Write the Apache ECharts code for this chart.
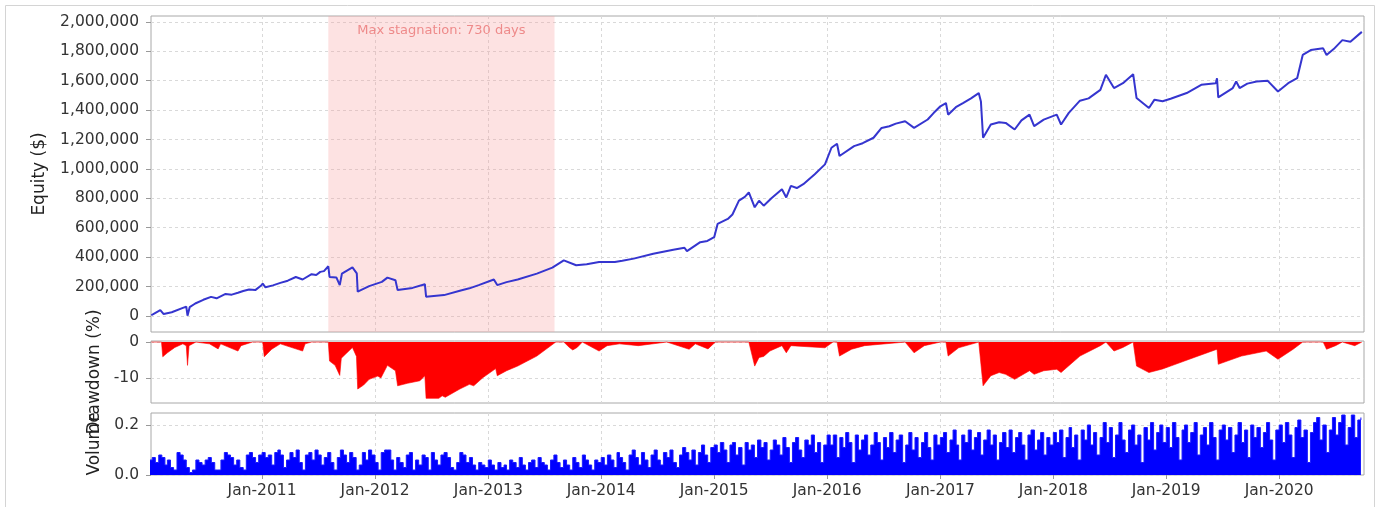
<!DOCTYPE html>
<html>
<head>
<meta charset="utf-8">
<title>Equity</title>
<script src="https://cdn.jsdelivr.net/npm/echarts@6/dist/echarts.min.js"></script>
<style>
  html, body { margin: 0; padding: 0; background: #fff; }
  #main { width: 1383px; height: 507px; }
</style>
</head>
<body>
<div id="main"></div>
<script>
// equity curve
var equity = [
  ['2010-01-08', 5000], ['2010-01-20', 20000], ['2010-02-06', 40000], ['2010-02-17', 13000],
  ['2010-03-15', 25000], ['2010-04-20', 55000], ['2010-05-01', 63000], ['2010-05-05', 2000],
  ['2010-05-12', 60000], ['2010-05-30', 85000], ['2010-06-25', 110000], ['2010-07-20', 130000],
  ['2010-08-07', 120000], ['2010-09-05', 150000], ['2010-09-25', 145000], ['2010-10-15', 158000],
  ['2010-11-01', 170000], ['2010-11-20', 180000], ['2010-12-10', 176000],
  ['2010-12-28', 205000], ['2011-01-03', 220000], ['2011-01-12', 195000], ['2011-02-05', 208000],
  ['2011-03-01', 225000], ['2011-03-25', 240000], ['2011-04-20', 265000], ['2011-05-12', 248000],
  ['2011-06-10', 284000], ['2011-06-25', 278000], ['2011-07-08', 300000], ['2011-07-20', 305000],
  ['2011-08-03', 338000], ['2011-08-07', 265000], ['2011-08-29', 262000], ['2011-09-09', 210000],
  ['2011-09-16', 288000], ['2011-10-20', 330000], ['2011-11-03', 290000], ['2011-11-06', 165000],
  ['2011-12-13', 203000], ['2012-01-23', 232000], ['2012-02-10', 261000], ['2012-03-07', 243000],
  ['2012-03-14', 176000], ['2012-05-01', 191000], ['2012-06-10', 216000], ['2012-06-14', 131000],
  ['2012-08-11', 142000], ['2012-10-01', 171000], ['2012-11-01', 188000], ['2012-12-01', 210000],
  ['2013-01-19', 248000], ['2013-01-30', 210000], ['2013-03-01', 230000], ['2013-04-06', 248000],
  ['2013-06-07', 288000], ['2013-07-27', 329000], ['2013-09-02', 378000], ['2013-10-12', 345000],
  ['2013-11-15', 352000], ['2013-12-25', 367000], ['2014-02-14', 367000], ['2014-03-10', 375000],
  ['2014-04-16', 390000], ['2014-06-18', 423000], ['2014-08-22', 450000], ['2014-09-27', 464000],
  ['2014-10-05', 441000], ['2014-11-17', 502000], ['2014-12-10', 510000], ['2015-01-01', 536000],
  ['2015-01-12', 626000], ['2015-02-14', 660000], ['2015-03-01', 690000], ['2015-03-22', 784000],
  ['2015-04-10', 810000], ['2015-04-23', 840000], ['2015-05-12', 739000],
  ['2015-05-26', 784000], ['2015-06-10', 750000], ['2015-07-05', 800000], ['2015-08-08', 862000],
  ['2015-08-22', 806000], ['2015-09-06', 885000], ['2015-09-25', 870000], ['2015-10-16', 896000],
  ['2015-11-22', 964000], ['2015-12-25', 1031000], ['2016-01-15', 1144000], ['2016-02-02', 1171000],
  ['2016-02-10', 1088000], ['2016-03-28', 1155000], ['2016-04-25', 1175000], ['2016-05-30', 1212000],
  ['2016-06-25', 1279000], ['2016-07-20', 1290000], ['2016-08-10', 1308000], ['2016-09-09', 1324000],
  ['2016-10-08', 1279000], ['2016-11-21', 1336000], ['2016-12-10', 1380000], ['2017-01-01', 1426000],
  ['2017-01-19', 1448000], ['2017-01-26', 1369000], ['2017-02-20', 1420000], ['2017-03-15', 1448000],
  ['2017-04-10', 1480000], ['2017-05-05', 1516000], ['2017-05-12', 1459000], ['2017-05-19', 1212000],
  ['2017-06-13', 1302000], ['2017-07-10', 1318000], ['2017-07-31', 1313000], ['2017-08-29', 1268000],
  ['2017-09-20', 1330000], ['2017-10-16', 1369000], ['2017-10-31', 1291000], ['2017-12-01', 1335000],
  ['2018-01-12', 1369000], ['2018-01-26', 1302000], ['2018-02-20', 1381000], ['2018-03-28', 1464000],
  ['2018-04-25', 1480000], ['2018-06-02', 1538000], ['2018-06-20', 1640000], ['2018-07-16', 1550000],
  ['2018-08-14', 1583000], ['2018-09-16', 1644000], ['2018-09-27', 1482000], ['2018-11-06', 1414000],
  ['2018-11-24', 1471000], ['2018-12-20', 1460000], ['2019-01-15', 1477000], ['2019-03-08', 1516000],
  ['2019-04-24', 1572000], ['2019-06-10', 1583000], ['2019-06-14', 1617000], ['2019-06-18', 1486000],
  ['2019-08-04', 1550000], ['2019-08-15', 1595000], ['2019-08-26', 1550000], ['2019-09-20', 1580000],
  ['2019-10-20', 1595000], ['2019-11-25', 1599000], ['2019-12-28', 1527000], ['2020-01-30', 1583000],
  ['2020-02-28', 1617000], ['2020-03-17', 1775000], ['2020-04-12', 1808000], ['2020-05-22', 1820000],
  ['2020-06-02', 1775000], ['2020-06-25', 1815000], ['2020-07-23', 1876000], ['2020-08-18', 1865000],
  ['2020-09-24', 1932000]
];

// drawdown in %
var drawdown = [
  ['2010-01-08', 0], ['2010-02-10', 0], ['2010-02-14', -4.1], ['2010-03-01', -3], ['2010-03-25', -1.5],
  ['2010-04-20', -0.5], ['2010-05-01', -1], ['2010-05-05', -6.5], ['2010-05-10', -1], ['2010-06-01', 0],
  ['2010-07-15', -0.5], ['2010-08-12', -1.9], ['2010-08-20', -0.5], ['2010-10-15', -2.5], ['2010-10-25', -1],
  ['2010-12-01', 0], ['2011-01-03', 0], ['2011-01-08', -4.1], ['2011-02-01', -2], ['2011-03-01', -0.5],
  ['2011-05-12', -2.5], ['2011-05-20', -0.5], ['2011-06-10', 0], ['2011-08-03', 0], ['2011-08-07', -5.3],
  ['2011-08-25', -6.5], ['2011-09-09', -9.3], ['2011-09-14', -4.5], ['2011-10-20', -1.5], ['2011-11-02', -4],
  ['2011-11-06', -13.1], ['2011-11-25', -12], ['2011-12-13', -10.4], ['2012-01-10', -9.5], ['2012-01-20', -10],
  ['2012-02-10', -6.5], ['2012-03-07', -8], ['2012-03-14', -12.2], ['2012-04-15', -11.5],
  ['2012-05-25', -10.8], ['2012-06-10', -9.4], ['2012-06-14', -15.7], ['2012-07-25', -15.7], ['2012-08-05', -15],
  ['2012-08-15', -15.4], ['2012-10-01', -13.1], ['2012-11-01', -11.8], ['2012-11-15', -12.2],
  ['2012-12-15', -9.9], ['2013-01-25', -7.4], ['2013-01-30', -9.4], ['2013-03-01', -8], ['2013-04-06', -6.7],
  ['2013-06-07', -3.9], ['2013-08-07', 0], ['2013-09-02', 0], ['2013-09-20', -1.5], ['2013-10-01', -2.2],
  ['2013-10-15', -1.5], ['2013-11-01', 0], ['2013-12-25', -2.5], ['2014-01-20', -1], ['2014-03-01', -0.5],
  ['2014-05-01', -1], ['2014-08-01', 0], ['2014-10-12', -2], ['2014-11-01', -0.5], ['2014-12-12', -1.9],
  ['2015-01-05', 0], ['2015-04-23', 0], ['2015-05-12', -6.7], ['2015-05-26', -4.3], ['2015-06-10', -4],
  ['2015-06-30', -2.5], ['2015-08-08', -1], ['2015-08-22', -3], ['2015-09-06', -1], ['2015-12-25', -1.6],
  ['2016-01-20', 0], ['2016-02-02', 0], ['2016-02-10', -3.9], ['2016-03-20', -2], ['2016-05-01', -1],
  ['2016-09-09', 0], ['2016-10-08', -3], ['2016-11-10', -1], ['2017-01-01', 0], ['2017-01-19', 0],
  ['2017-01-26', -3.9], ['2017-03-01', -1.6], ['2017-05-05', 0], ['2017-05-19', -12.2], ['2017-06-13', -9.4],
  ['2017-07-10', -8.5], ['2017-07-31', -9], ['2017-08-29', -10.4], ['2017-10-16', -8], ['2017-10-31', -9],
  ['2017-12-01', -8], ['2018-01-12', -7.6], ['2018-01-26', -8.5], ['2018-03-28', -3.9], ['2018-06-02', -1],
  ['2018-06-20', 0], ['2018-07-16', -2.5], ['2018-08-14', -1.5], ['2018-09-16', 0], ['2018-09-27', -6.7],
  ['2018-11-06', -8.5], ['2018-12-20', -7.5], ['2019-01-15', -6.7], ['2019-04-01', -4.3], ['2019-06-14', -2],
  ['2019-06-18', -6.2], ['2019-09-01', -3.9], ['2019-11-20', -2.5], ['2019-12-28', -4.8], ['2020-02-15', -2],
  ['2020-03-17', 0], ['2020-05-22', 0], ['2020-06-02', -2], ['2020-07-01', -1], ['2020-07-23', 0],
  ['2020-09-01', -1], ['2020-09-24', 0]
];

// volume, three readings per month (1st, 11th, 21st), one row per year
var volumeStartYear = 2010;
var volumeDays = [1, 11, 21];
var volume = [
  [0.06,0.07,0.05,0.08,0.07,0.04,0.06,0.03,0.02,0.09,0.08,0.06,0.03,0.01,0.02,0.06,0.05,0.04,0.06,0.07,0.05,0.02,0.02,0.06,0.09,0.08,0.07,0.04,0.06,0.03,0.02,0.08,0.09,0.07,0.05,0.08],
  [0.09,0.07,0.08,0.04,0.09,0.10,0.08,0.03,0.06,0.09,0.07,0.10,0.05,0.02,0.08,0.09,0.06,0.10,0.08,0.04,0.07,0.09,0.05,0.02,0.07,0.10,0.08,0.05,0.09,0.07,0.02,0.04,0.09,0.06,0.10,0.08],
  [0.05,0.02,0.09,0.10,0.10,0.06,0.02,0.07,0.05,0.03,0.08,0.09,0.02,0.06,0.04,0.08,0.07,0.02,0.09,0.06,0.04,0.08,0.09,0.07,0.03,0.02,0.05,0.09,0.08,0.05,0.07,0.04,0.02,0.05,0.04,0.03],
  [0.06,0.04,0.02,0.05,0.03,0.04,0.02,0.06,0.05,0.03,0.07,0.04,0.02,0.05,0.06,0.03,0.07,0.05,0.04,0.02,0.06,0.08,0.05,0.03,0.06,0.04,0.02,0.07,0.05,0.03,0.08,0.06,0.04,0.02,0.06,0.05],
  [0.07,0.04,0.08,0.06,0.03,0.09,0.07,0.05,0.02,0.08,0.10,0.07,0.04,0.09,0.06,0.03,0.08,0.10,0.06,0.04,0.09,0.07,0.10,0.05,0.03,0.08,0.11,0.09,0.06,0.10,0.04,0.09,0.12,0.08,0.05,0.11],
  [0.12,0.09,0.13,0.10,0.05,0.12,0.13,0.08,0.11,0.04,0.13,0.10,0.12,0.07,0.14,0.11,0.13,0.06,0.10,0.14,0.12,0.08,0.15,0.11,0.05,0.13,0.15,0.10,0.07,0.14,0.12,0.16,0.09,0.13,0.05,0.12],
  [0.16,0.12,0.16,0.07,0.15,0.11,0.17,0.13,0.05,0.16,0.10,0.14,0.16,0.08,0.12,0.17,0.13,0.06,0.15,0.11,0.17,0.09,0.14,0.16,0.05,0.12,0.17,0.10,0.15,0.07,0.13,0.17,0.11,0.06,0.16,0.12],
  [0.15,0.17,0.09,0.14,0.18,0.12,0.06,0.16,0.13,0.18,0.10,0.15,0.17,0.08,0.14,0.18,0.12,0.16,0.06,0.13,0.17,0.11,0.18,0.09,0.15,0.17,0.12,0.06,0.16,0.18,0.10,0.14,0.17,0.08,0.15,0.12],
  [0.17,0.13,0.18,0.07,0.15,0.19,0.11,0.16,0.06,0.18,0.14,0.20,0.12,0.17,0.08,0.15,0.21,0.13,0.19,0.07,0.16,0.21,0.14,0.09,0.18,0.20,0.12,0.16,0.05,0.19,0.14,0.21,0.10,0.17,0.20,0.13],
  [0.19,0.11,0.21,0.15,0.06,0.18,0.20,0.13,0.17,0.21,0.08,0.16,0.19,0.12,0.21,0.15,0.06,0.18,0.20,0.14,0.19,0.09,0.16,0.21,0.13,0.18,0.07,0.20,0.15,0.19,0.11,0.17,0.21,0.14,0.06,0.18],
  [0.20,0.13,0.21,0.16,0.07,0.19,0.22,0.15,0.18,0.05,0.17,0.21,0.23,0.14,0.20,0.09,0.18,0.23,0.16,0.21,0.24,0.12,0.19,0.24,0.15,0.22,0.23]
];

// tick labels
var yearTicks = ['2011-01-01','2012-01-01','2013-01-01','2014-01-01','2015-01-01',
                 '2016-01-01','2017-01-01','2018-01-01','2019-01-01','2020-01-01'];
var equityTicks = [0, 200000, 400000, 600000, 800000, 1000000, 1200000, 1400000, 1600000, 1800000, 2000000];
var drawdownTicks = [-10, 0];
var volumeTicks = [0, 0.2];

var stagnation = { from: '2011-08-03', to: '2013-08-03', text: 'Max stagnation: 730 days' };
var xRange = ['2010-01-07', '2020-10-01'];

// dates -> timestamps for a plain value axis
function ts(s) {
  var p = s.split('-');
  return new Date(+p[0], +p[1] - 1, +p[2]).getTime();
}
function toPoints(arr) {
  return arr.map(function (d) { return [ts(d[0]), d[1]]; });
}

var volumeData = [];
volume.forEach(function (row, y) {
  row.forEach(function (v, i) {
    var m = Math.floor(i / volumeDays.length);
    var d = volumeDays[i % volumeDays.length];
    volumeData.push([new Date(volumeStartYear + y, m, d).getTime(), v]);
  });
});

var tickTimes = yearTicks.map(ts);

var font = 'DejaVu Sans';
var gridLine = { show: true, lineStyle: { color: '#d9d9d9', type: [3, 3], width: 1 } };

function xAxisFor(idx, showLabels) {
  return {
    type: 'value', gridIndex: idx,
    min: ts(xRange[0]), max: ts(xRange[1]),
    axisLine: { show: false },
    axisTick: { show: showLabels, customValues: tickTimes, length: 4, lineStyle: { color: '#999' } },
    axisLabel: {
      show: showLabels, customValues: tickTimes, color: '#333', fontFamily: font, fontSize: 15.5, margin: 8,
      formatter: function (v) { return 'Jan-' + new Date(v).getFullYear(); }
    },
    splitLine: gridLine
  };
}

function yAxisFor(idx, name, min, max, ticks, fmt, gap) {
  return {
    type: 'value', gridIndex: idx, min: min, max: max,
    name: name, nameLocation: 'middle', nameGap: gap, nameRotate: 90,
    nameTextStyle: { color: '#222', fontFamily: font, fontSize: 17 },
    axisLine: { show: false },
    axisTick: { show: true, customValues: ticks, length: 5, lineStyle: { color: '#999' } },
    axisLabel: { customValues: ticks, color: '#333', fontFamily: font, fontSize: 15.5, margin: 12, formatter: fmt },
    splitLine: gridLine
  };
}

var myChart = echarts.init(document.getElementById('main'));

var option = {
  animation: false,
  backgroundColor: '#fff',
  graphic: [{
    type: 'rect', silent: true, z: -10,
    shape: { x: 5.5, y: 5.5, width: 1369, height: 520 },
    style: { fill: 'none', stroke: '#d4d4d4', lineWidth: 1 }
  }],
  grid: [
    { left: 151, right: 19, top: 16, height: 316, show: true, borderColor: '#a8a8a8', borderWidth: 1 },
    { left: 151, right: 19, top: 341, height: 62, show: true, borderColor: '#a8a8a8', borderWidth: 1 },
    { left: 151, right: 19, top: 413, height: 62, show: true, borderColor: '#a8a8a8', borderWidth: 1 }
  ],
  xAxis: [xAxisFor(0, false), xAxisFor(1, false), xAxisFor(2, true)],
  yAxis: [
    yAxisFor(0, 'Equity ($)', -109000, 2040000, equityTicks,
      function (v) { return v.toLocaleString('en-US'); }, 103),
    yAxisFor(1, 'Drawdown (%)', -17, 0.3, drawdownTicks,
      function (v) { return String(v); }, 46),
    yAxisFor(2, 'Volume', 0, 0.248, volumeTicks,
      function (v) { return v.toFixed(1); }, 46)
  ],
  series: [
    {
      name: 'Equity', type: 'line', xAxisIndex: 0, yAxisIndex: 0,
      data: toPoints(equity), showSymbol: false, sampling: 'none',
      lineStyle: { color: '#3535cf', width: 2 },
      markArea: {
        silent: true,
        itemStyle: { color: 'rgba(248, 160, 160, 0.3)' },
        label: {
          show: true, position: 'insideTop', distance: 8,
          color: '#ee8a8a', fontFamily: font, fontSize: 13
        },
        data: [[{ name: stagnation.text, xAxis: ts(stagnation.from) }, { xAxis: ts(stagnation.to) }]]
      }
    },
    {
      name: 'Drawdown', type: 'line', xAxisIndex: 1, yAxisIndex: 1,
      data: toPoints(drawdown), showSymbol: false, sampling: 'none',
      lineStyle: { width: 0.6, color: '#ff0000' },
      areaStyle: { color: '#ff0000', opacity: 1 }
    },
    {
      name: 'Volume', type: 'line', xAxisIndex: 2, yAxisIndex: 2, step: 'end',
      data: volumeData, showSymbol: false, sampling: 'none',
      lineStyle: { width: 1, color: '#1a1aff' },
      areaStyle: { color: '#0000ff', opacity: 1 }
    }
  ]
};

myChart.setOption(option);
</script>
</body>
</html>
